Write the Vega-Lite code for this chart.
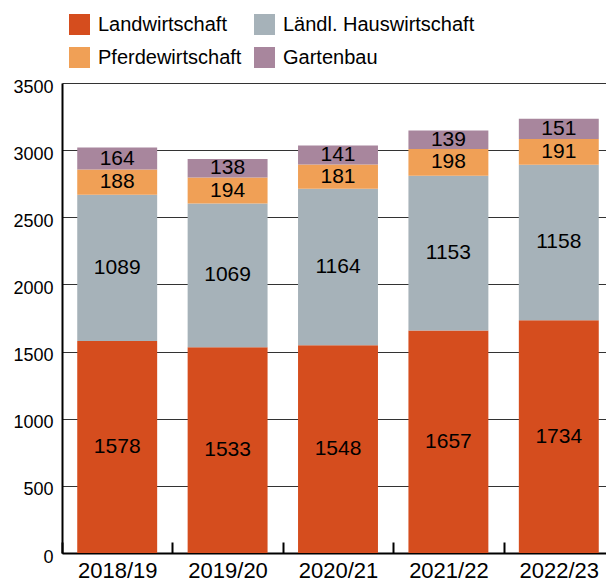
{
  "$schema": "https://vega.github.io/schema/vega-lite/v6.json",
  "width": 544,
  "height": 470,
  "autosize": {"type": "none"},
  "padding": {"left": 62, "top": 83, "right": 0, "bottom": 28},
  "config": {
    "font": "Liberation Sans",
    "view": {"stroke": null},
    "axis": {"labelColor": "#000000", "labelFont": "Liberation Sans"},
    "legend": {"labelFont": "Liberation Sans"}
  },
  "data": {
    "values": [
      {"year": "2018/19", "category": "Landwirtschaft", "rank": 1, "value": 1578},
      {"year": "2018/19", "category": "Ländl. Hauswirtschaft", "rank": 2, "value": 1089},
      {"year": "2018/19", "category": "Pferdewirtschaft", "rank": 3, "value": 188},
      {"year": "2018/19", "category": "Gartenbau", "rank": 4, "value": 164},
      {"year": "2019/20", "category": "Landwirtschaft", "rank": 1, "value": 1533},
      {"year": "2019/20", "category": "Ländl. Hauswirtschaft", "rank": 2, "value": 1069},
      {"year": "2019/20", "category": "Pferdewirtschaft", "rank": 3, "value": 194},
      {"year": "2019/20", "category": "Gartenbau", "rank": 4, "value": 138},
      {"year": "2020/21", "category": "Landwirtschaft", "rank": 1, "value": 1548},
      {"year": "2020/21", "category": "Ländl. Hauswirtschaft", "rank": 2, "value": 1164},
      {"year": "2020/21", "category": "Pferdewirtschaft", "rank": 3, "value": 181},
      {"year": "2020/21", "category": "Gartenbau", "rank": 4, "value": 141},
      {"year": "2021/22", "category": "Landwirtschaft", "rank": 1, "value": 1657},
      {"year": "2021/22", "category": "Ländl. Hauswirtschaft", "rank": 2, "value": 1153},
      {"year": "2021/22", "category": "Pferdewirtschaft", "rank": 3, "value": 198},
      {"year": "2021/22", "category": "Gartenbau", "rank": 4, "value": 139},
      {"year": "2022/23", "category": "Landwirtschaft", "rank": 1, "value": 1734},
      {"year": "2022/23", "category": "Ländl. Hauswirtschaft", "rank": 2, "value": 1158},
      {"year": "2022/23", "category": "Pferdewirtschaft", "rank": 3, "value": 191},
      {"year": "2022/23", "category": "Gartenbau", "rank": 4, "value": 151}
    ]
  },
  "transform": [
    {"stack": "value", "groupby": ["year"], "sort": [{"field": "rank", "order": "ascending"}], "as": ["v0", "v1"], "offset": "zero"}
  ],
  "encoding": {
    "x": {
      "field": "year",
      "type": "nominal",
      "sort": null,
      "scale": {"paddingInner": 0, "paddingOuter": 0, "range": [0, 552]},
      "axis": {
        "title": null,
        "labelAngle": 0,
        "tickBand": "extent",
        "labelFontSize": 22,
        "labelPadding": 18,
        "labelBaseline": "top",
        "tickSize": -11,
        "tickWidth": 2,
        "tickColor": "#000000",
        "domainColor": "#000000",
        "domainWidth": 2,
        "grid": false
      }
    }
  },
  "layer": [
    {
      "mark": {"type": "bar", "width": {"band": 0.724}},
      "encoding": {
        "y": {
          "field": "v0",
          "type": "quantitative",
          "scale": {"domain": [0, 3500], "nice": false},
          "axis": {
            "title": null,
            "values": [0, 500, 1000, 1500, 2000, 2500, 3000, 3500],
            "format": "d",
            "ticks": false,
            "labelFontSize": 18,
            "labelPadding": 9,
            "labelOffset": 4,
            "domainColor": "#000000",
            "domainWidth": 2,
            "grid": true,
            "gridColor": "#333333",
            "gridWidth": 1
          }
        },
        "y2": {"field": "v1"},
        "color": {
          "field": "category",
          "type": "nominal",
          "scale": {
            "domain": ["Landwirtschaft", "Ländl. Hauswirtschaft", "Pferdewirtschaft", "Gartenbau"],
            "range": ["#d54d1e", "#a6b2b9", "#f0a056", "#a8869d"]
          },
          "legend": {
            "title": null,
            "orient": "none",
            "direction": "horizontal",
            "legendX": 7,
            "legendY": -69,
            "columns": 2,
            "symbolType": "square",
            "symbolSize": 441,
            "symbolStrokeWidth": 0,
            "symbolOpacity": 1,
            "labelFontSize": 20,
            "labelColor": "#000000",
            "labelOffset": 8,
            "columnPadding": 12,
            "rowPadding": 12,
            "padding": 0,
            "labelLimit": 300
          }
        }
      }
    },
    {
      "transform": [
        {"fold": ["v0", "v1"], "as": ["edge", "pos"]},
        {"aggregate": [{"op": "mean", "field": "pos", "as": "mid"}], "groupby": ["year", "category", "value"]}
      ],
      "mark": {"type": "text", "fontSize": 21, "color": "#000000", "baseline": "middle"},
      "encoding": {
        "y": {"field": "mid", "type": "quantitative", "title": null},
        "text": {"field": "value", "type": "quantitative"}
      }
    }
  ]
}
